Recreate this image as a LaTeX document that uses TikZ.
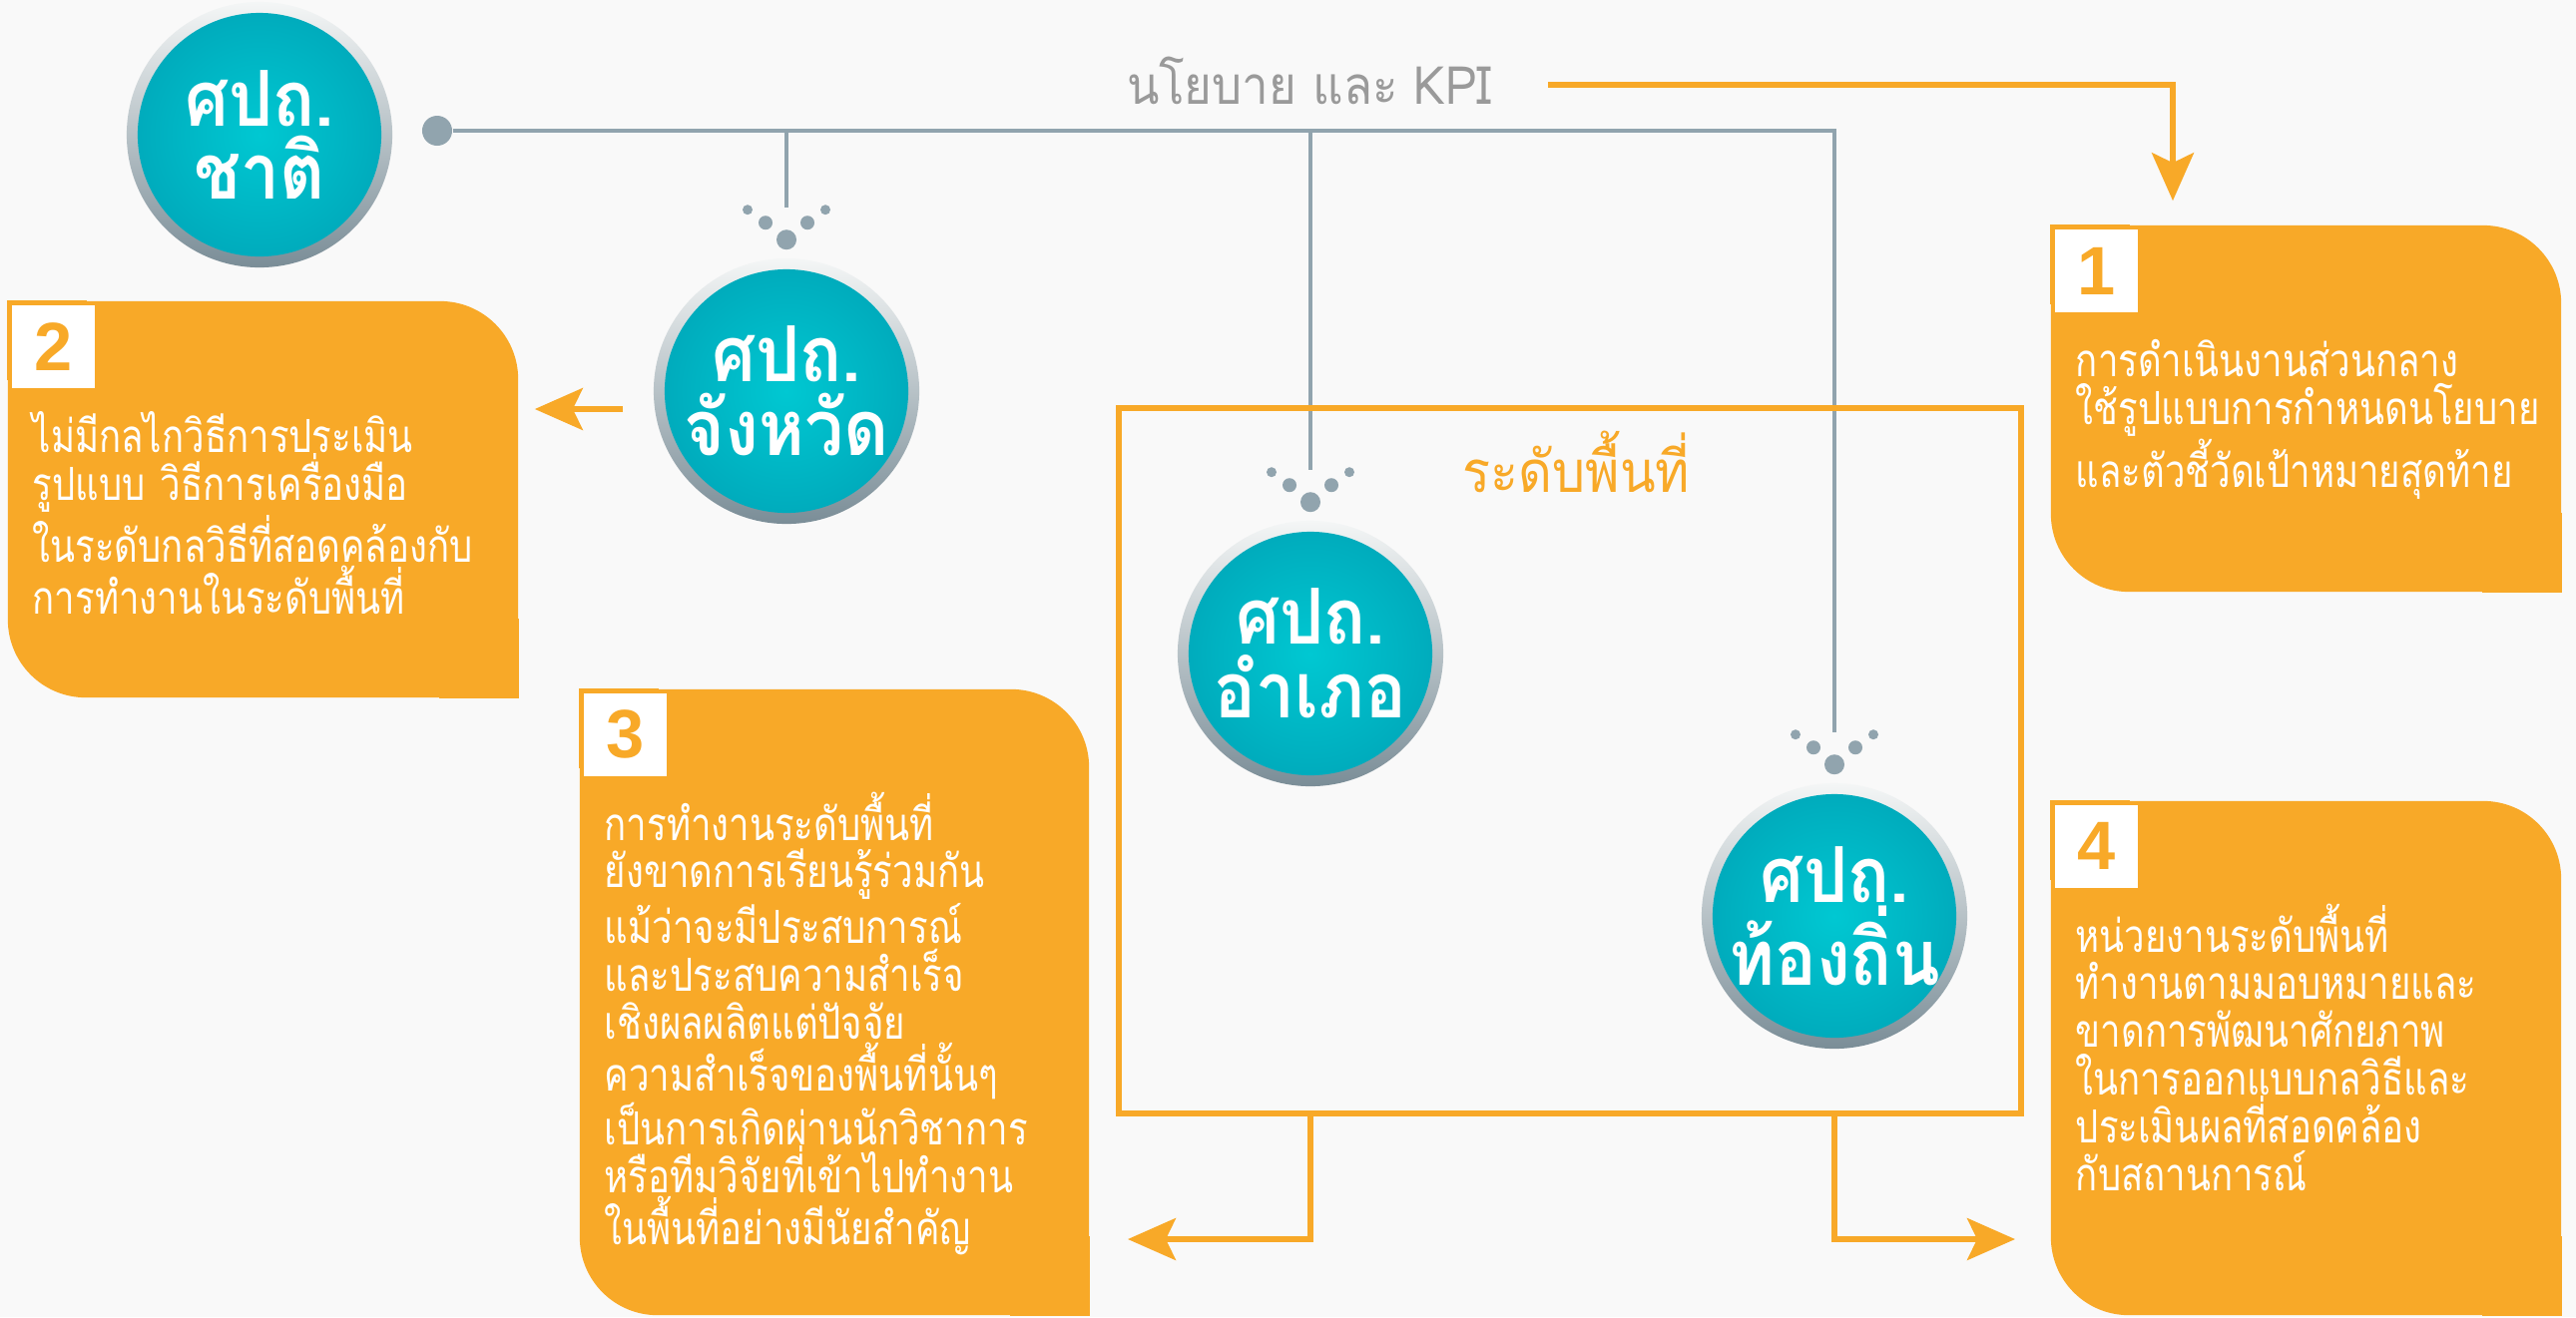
\documentclass[tikz,border=0pt]{standalone}
\usepackage{fontspec}
\newfontfamily\thai[Script=Thai, FakeStretch=0.8]{Loma}
\newfontfamily\thaihead[Script=Thai, FakeStretch=0.9]{Loma}
\newfontfamily\digits{Liberation Sans}
\usetikzlibrary{arrows.meta, positioning}

\definecolor{accent}{HTML}{F8A928}
\definecolor{railgray}{HTML}{91A4AE}
\definecolor{kpigray}{HTML}{9A9A9A}
\definecolor{hubcore}{RGB}{0,200,210}
\definecolor{hubrim}{RGB}{0,138,163}
\definecolor{ringtop}{RGB}{244,246,246}
\definecolor{ringbot}{RGB}{122,141,151}
\definecolor{paper}{HTML}{F9F9F9}

\pgfdeclareradialshading{hubglow}{\pgfpoint{0bp}{0bp}}{color(0bp)=(hubcore); color(50bp)=(hubrim)}

\begin{document}
\begin{tikzpicture}[x=0.01cm, y=-0.01cm, >=Stealth,
    hub/.style={circle, minimum size=2.66cm, inner sep=0pt, top color=ringtop, bottom color=ringbot,
        path picture={\shade[shading=hubglow] (path picture bounding box.center) circle (1.22cm);},
        text=white, font=\thaihead\bfseries\fontsize{22}{21}\selectfont, align=center},
    rail/.style={draw=railgray, line width=1.35pt},
    twig/.style={draw=railgray, line width=1.1pt},
    flow/.style={draw=accent, line width=1.5pt, -{Stealth[length=0.48cm, width=0.42cm, inset=0.1cm]}},
    panel/.style={fill=accent, rounded corners=0.78cm, inner sep=0pt},
    numbox/.style={fill=white, minimum size=0.83cm, inner sep=0pt, anchor=north west,
        text=accent, font=\digits\bfseries\fontsize{19.5}{20}\selectfont},
    paneltext/.style={text=white, font=\thai\fontsize{13}{13.6}\selectfont, text width=4.8cm,
        align=left, anchor=base west, inner sep=0pt}]

    % Background
    \fill[paper] (0,0) rectangle (2581,1320);
    \useasboundingbox (0,0) rectangle (2581,1320);

    % Centres
    \node[hub] (nat) at (260,135) {ศปถ.\\ชาติ};
    \node[hub] (prov) at (788,392) {ศปถ.\\จังหวัด};
    \node[hub] (dist) at (1313,655) {ศปถ.\\อำเภอ};
    \node[hub] (loc) at (1838,918) {ศปถ.\\ท้องถิ่น};

    % Policy rail
    \node[circle, fill=railgray, minimum size=0.3cm, inner sep=0pt] (root) at (438,131) {};
    \coordinate (provtip) at ([yshift=0.5cm]prov.north);
    \coordinate (disttip) at ([yshift=0.5cm]dist.north);
    \coordinate (loctip) at ([yshift=0.5cm]loc.north);
    \draw[rail] (root) -- (loc |- root) -- (loctip);
    \draw[twig] (prov |- root) -- (provtip);
    \draw[twig] (dist |- root) -- (disttip);

    % Drops above each centre
    \foreach \h in {prov, dist, loc} {
        \fill[railgray] ([shift={(0,-18)}]\h.north) circle (0.1cm);
        \fill[railgray] ([shift={(-21,-35)}]\h.north) circle (0.07cm);
        \fill[railgray] ([shift={(21,-35)}]\h.north) circle (0.07cm);
        \fill[railgray] ([shift={(-39,-48)}]\h.north) circle (0.05cm);
        \fill[railgray] ([shift={(39,-48)}]\h.north) circle (0.05cm);
    }

    % Area frame
    \node[draw=accent, line width=1.6pt, minimum width=9.04cm, minimum height=7.07cm] (area) at (1573,762.5) {};
    \node[text=accent, font=\thaihead\fontsize{16.5}{18}\selectfont, anchor=base west, inner sep=0pt] (arealabel) at (1465,493) {ระดับพื้นที่};

    % Policy label
    \node[text=kpigray, font=\thaihead\fontsize{15}{16}\selectfont, anchor=base, inner sep=0pt] (kpi) at (1312,104) {นโยบาย และ KPI};

    % Panels
    \node[panel, minimum width=5.11cm, minimum height=3.67cm] (p1) at (2310.5,409.5) {};
    \node[panel, minimum width=5.11cm, minimum height=3.97cm] (p2) at (263.5,500.5) {};
    \node[panel, minimum width=5.10cm, minimum height=6.27cm] (p3) at (836,1004.5) {};
    \node[panel, minimum width=5.11cm, minimum height=5.15cm] (p4) at (2310.5,1060.5) {};
    \foreach \b in {p1, p2, p3, p4} {
        \fill[accent] (\b.north west) rectangle ++(80,80);
        \fill[accent] (\b.south east) rectangle ++(-80,-80);
    }

    \node[numbox] (n1) at ([shift={(4,4)}]p1.north west) {1};
    \node[numbox] (n2) at ([shift={(4,4)}]p2.north west) {2};
    \node[numbox] (n3) at ([shift={(4,4)}]p3.north west) {3};
    \node[numbox] (n4) at ([shift={(4,4)}]p4.north west) {4};

    \node[paneltext] (t1) at ([shift={(25,152)}]p1.north west)
        {การดำเนินงานส่วนกลาง\\ใช้รูปแบบการกำหนดนโยบาย\\และตัวชี้วัดเป้าหมายสุดท้าย};
    \node[paneltext] (t2) at ([shift={(25,152)}]p2.north west)
        {ไม่มีกลไกวิธีการประเมิน\\รูปแบบ วิธีการเครื่องมือ\\ในระดับกลวิธีที่สอดคล้องกับ\\การทำงานในระดับพื้นที่};
    \node[paneltext] (t3) at ([shift={(25,152)}]p3.north west)
        {การทำงานระดับพื้นที่\\ยังขาดการเรียนรู้ร่วมกัน\\แม้ว่าจะมีประสบการณ์\\และประสบความสำเร็จ\\เชิงผลผลิตแต่ปัจจัย\\ความสำเร็จของพื้นที่นั้นๆ\\เป็นการเกิดผ่านนักวิชาการ\\หรือทีมวิจัยที่เข้าไปทำงาน\\ในพื้นที่อย่างมีนัยสำคัญ};
    \node[paneltext] (t4) at ([shift={(25,152)}]p4.north west)
        {หน่วยงานระดับพื้นที่\\ทำงานตามมอบหมายและ\\ขาดการพัฒนาศักยภาพ\\ในการออกแบบกลวิธีและ\\ประเมินผลที่สอดคล้อง\\กับสถานการณ์};

    % Arrows
    \coordinate (kpistart) at (1551,85);
    \coordinate (kpiturn) at (2177,85);
    \draw[flow, shorten >=0.24cm] (kpistart) -- (kpiturn) -- (kpiturn |- p1.north);

    \coordinate (provout) at ([shift={(-30,18)}]prov.west);
    \draw[flow, shorten >=0.16cm] (provout) -- (provout -| p2.east);

    \coordinate (lowleft) at (1130,1242);
    \coordinate (lowright) at (2019,1242);
    \draw[flow] (dist |- area.south) |- (lowleft);
    \draw[flow] (loc |- area.south) |- (lowright);
\end{tikzpicture}
\end{document}
